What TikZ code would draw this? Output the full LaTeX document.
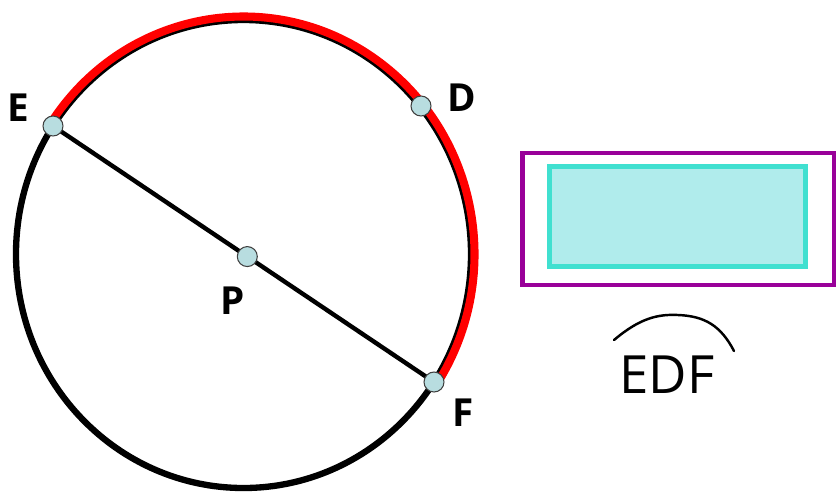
\documentclass[tikz,border=0pt]{standalone}
\usepackage{fontspec}
\setmainfont{Open Sans}
\usetikzlibrary{calc}
\definecolor{ptfill}{RGB}{184,221,224}
\definecolor{arcred}{RGB}{255,0,0}
\definecolor{boxpurple}{RGB}{153,0,153}
\definecolor{boxteal}{RGB}{64,224,208}
\definecolor{boxfill}{RGB}{176,236,236}

\begin{document}
\begin{tikzpicture}[x=0.02cm,y=-0.02cm,
  pt/.style={circle,draw=black!75,fill=ptfill,line width=0.6pt,minimum size=0.4cm,inner sep=0pt},
  lbl/.style={inner sep=0pt,font=\bfseries\fontsize{22}{22}\selectfont}]
\useasboundingbox (0,0) rectangle (837,495);
\coordinate (C) at (243.5,254);
\coordinate (E) at (53,126);
\coordinate (F) at (434,382);
\draw[line width=3.6pt] (C) ellipse[x radius=227.5,y radius=234];
\draw[arcred,line width=4.6pt] (C) ++(-146.6:231 and 237.5) arc[start angle=-146.6,end angle=33.1,x radius=231,y radius=237.5];
\draw[line width=2.5pt] (E) -- (F);
\node[pt] (e) at (E) {};
\node[pt] (f) at (F) {};
\node[pt] (d) at (421,106) {};
\node[pt] (p) at ($(E)!0.51!(F)$) {};
\node[lbl] (le) at (18.5,108) {E};
\node[lbl] (ld) at (461.5,97.5) {D};
\node[lbl] (lf) at (463.5,412.5) {F};
\node[lbl] (lp) at (232.5,300.5) {P};
\draw[boxpurple,line width=2.5pt] (522.5,153) rectangle (834,285);
\draw[boxteal,fill=boxfill,line width=2.6pt] (549.5,166.5) rectangle (805.5,266.5);
\node[inner sep=0pt,font=\fontsize{30}{30}\selectfont] (arcname) at (667,375) {EDF};
\draw[line width=1.4pt,line cap=round] (614,340) .. controls (640,318) and (658,314) .. (678,315) .. controls (705,316) and (721,326) .. (734,351);
\end{tikzpicture}
\end{document}
